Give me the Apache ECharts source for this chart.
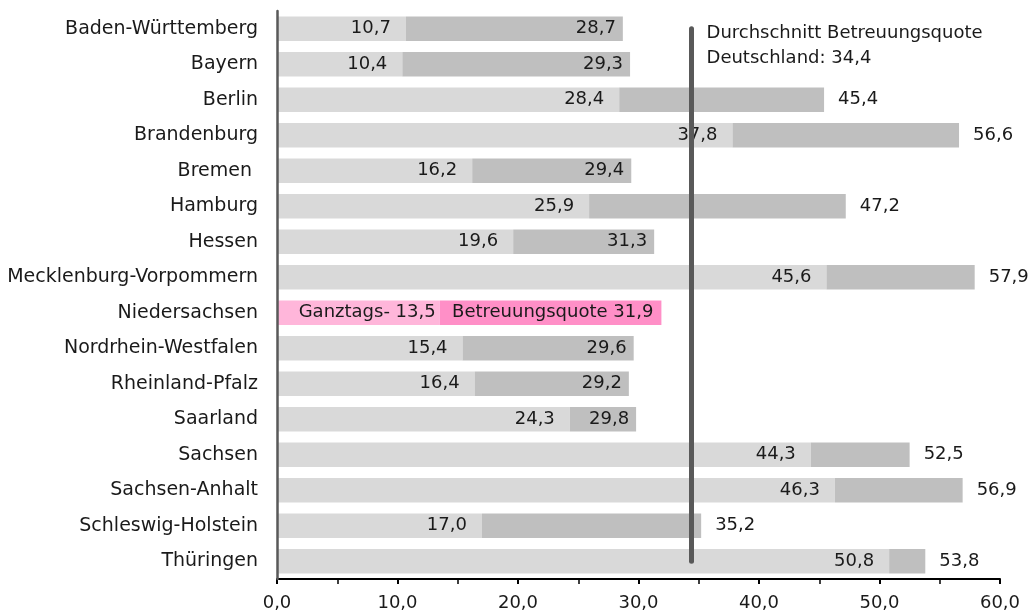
<!DOCTYPE html>
<html>
<head>
<meta charset="utf-8">
<script src="https://cdn.jsdelivr.net/npm/echarts@6/dist/echarts.min.js"></script>
<style>
  html, body { margin: 0; padding: 0; background: #fff; }
  #chart { width: 1032px; height: 614px; }
</style>
</head>
<body>
<div id="chart"></div>
<script>
const laender = ['Baden-Württemberg', 'Bayern', 'Berlin', 'Brandenburg', 'Bremen ', 'Hamburg', 'Hessen',
  'Mecklenburg-Vorpommern', 'Niedersachsen', 'Nordrhein-Westfalen', 'Rheinland-Pfalz', 'Saarland',
  'Sachsen', 'Sachsen-Anhalt', 'Schleswig-Holstein', 'Thüringen']
const ganztags = [10.7, 10.4, 28.4, 37.8, 16.2, 25.9, 19.6, 45.6, 13.5, 15.4, 16.4, 24.3, 44.3, 46.3, 17.0, 50.8]
const betreuungsquote = [28.7, 29.3, 45.4, 56.6, 29.4, 47.2, 31.3, 57.9, 31.9, 29.6, 29.2, 29.8, 52.5, 56.9, 35.2, 53.8]
const durchschnitt = 34.4
const hervorgehoben = 'Niedersachsen'
const durchschnittText = ['Durchschnitt Betreuungsquote', 'Deutschland: 34,4']

const fmt = v => v.toFixed(1).replace('.', ',')
const font = 'DejaVu Sans'
const textColor = '#1a1a1a'

const lightData = ganztags.map((v, i) => {
  const hl = laender[i] === hervorgehoben
  return {
    value: v,
    itemStyle: { color: hl ? '#ffb6da' : '#d9d9d9' },
    label: { distance: hl ? 4 : 15 }
  }
})

const darkData = betreuungsquote.map((v, i) => {
  const hl = laender[i] === hervorgehoben
  const outside = v > durchschnitt
  return {
    value: +(v - ganztags[i]).toFixed(1),
    itemStyle: { color: hl ? '#ff8fc7' : '#bfbfbf' },
    label: { position: outside ? 'right' : 'insideRight', distance: outside ? 14 : (hl ? 8 : 7) }
  }
})

const chart = echarts.init(document.getElementById('chart'))
chart.setOption({
  animation: false,
  textStyle: { fontFamily: font },
  grid: { left: 277, right: 32, top: 11, bottom: 35 },
  xAxis: {
    type: 'value',
    position: 'bottom',
    min: 0,
    max: 60,
    interval: 10,
    axisLine: { show: true, onZero: false, lineStyle: { color: '#000', width: 2 } },
    axisTick: { show: true, length: 5, lineStyle: { color: '#000', width: 2 } },
    minorTick: { show: true, splitNumber: 2, length: 5, lineStyle: { color: '#000', width: 1.5 } },
    splitLine: { show: false },
    axisLabel: { formatter: v => fmt(v), fontSize: 18, color: textColor, margin: 15, fontFamily: font }
  },
  yAxis: {
    type: 'category',
    data: laender,
    inverse: true,
    z: 5,
    axisLine: { show: true, onZero: false, lineStyle: { color: '#595959', width: 2.5 } },
    axisTick: { show: false },
    axisLabel: { fontSize: 19, color: textColor, margin: 19, fontFamily: font }
  },
  series: [{
    name: 'Ganztags',
    type: 'bar',
    stack: 'quote',
    barCategoryGap: '31%',
    data: lightData,
    label: {
      show: true,
      position: 'insideRight',
      fontSize: 18,
      color: textColor,
      fontFamily: font,
      formatter: p => (laender[p.dataIndex] === hervorgehoben ? 'Ganztags- ' : '') + fmt(ganztags[p.dataIndex])
    }
  }, {
    name: 'Betreuungsquote',
    type: 'bar',
    stack: 'quote',
    data: darkData,
    label: {
      show: true,
      fontSize: 18,
      color: textColor,
      fontFamily: font,
      formatter: p => (laender[p.dataIndex] === hervorgehoben ? 'Betreuungsquote ' : '') + fmt(betreuungsquote[p.dataIndex])
    }
  }, {
    name: 'Durchschnitt',
    type: 'line',
    data: [],
    z: 5,
    markLine: {
      silent: true,
      symbol: ['none', 'none'],
      label: { show: false },
      lineStyle: { color: '#595959', width: 5, type: 'solid', cap: 'round' },
      data: [[{ coord: [durchschnitt, laender[0]] }, { coord: [durchschnitt, laender[laender.length - 1]] }]]
    },
    markPoint: {
      silent: true,
      symbol: 'circle',
      symbolSize: 0,
      label: {
        show: true,
        position: 'right',
        distance: 15,
        offset: [0, 17],
        fontSize: 18,
        lineHeight: 25,
        color: textColor,
        fontFamily: font,
        formatter: durchschnittText.join('\n')
      },
      data: [{ coord: [durchschnitt, laender[0]] }]
    }
  }]
})
</script>
</body>
</html>
